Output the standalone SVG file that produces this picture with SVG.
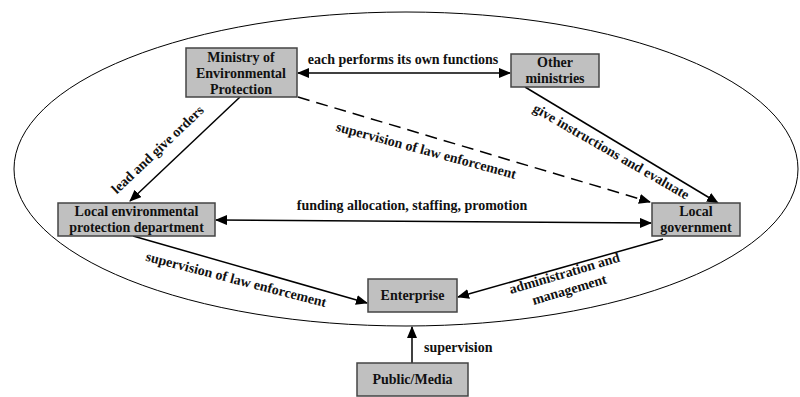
<svg xmlns="http://www.w3.org/2000/svg" width="800" height="397" viewBox="0 0 800 397">
<style>
.box{fill:#c0c0c0;stroke:#444;stroke-width:1.5}
.t{font-family:'Liberation Serif','DejaVu Serif',serif;font-weight:700;font-size:14px;fill:#111}
.c{text-anchor:middle}
.ln{stroke:#000;stroke-width:1.5;fill:none}
</style>
<defs>
<marker id="ah" markerUnits="userSpaceOnUse" markerWidth="12" markerHeight="10" refX="11" refY="5" orient="auto-start-reverse">
<path d="M0,0 L12,5 L0,10 z" fill="#000"/>
</marker>
</defs>
<rect width="800" height="397" fill="#fff"/>
<ellipse cx="406" cy="169" rx="392" ry="157" fill="none" stroke="#000" stroke-width="1"/>

<g id="connectors">
<line class="ln" x1="298" y1="73" x2="510" y2="73" marker-start="url(#ah)" marker-end="url(#ah)"/>
<line class="ln" x1="240" y1="97" x2="130" y2="201" marker-end="url(#ah)"/>
<line class="ln" x1="298" y1="97" x2="650" y2="202" stroke-dasharray="12,7" marker-end="url(#ah)"/>
<line class="ln" x1="525" y1="87" x2="718" y2="203" marker-end="url(#ah)"/>
<line class="ln" x1="216" y1="220" x2="651" y2="223" marker-start="url(#ah)" marker-end="url(#ah)"/>
<line class="ln" x1="133" y1="236" x2="367" y2="303" marker-end="url(#ah)"/>
<line class="ln" x1="663" y1="239" x2="458" y2="297" marker-end="url(#ah)"/>
<line class="ln" x1="412" y1="363" x2="412" y2="327" marker-end="url(#ah)"/>
</g>

<g id="labels">
<text class="t c" x="403" y="64">each performs its own functions</text>
<text class="t c" transform="translate(158,150) rotate(-43.4)" y="4">lead and give orders</text>
<text class="t c" transform="translate(426,151) rotate(15)" y="4">supervision of law enforcement</text>
<text class="t c" transform="translate(611,152) rotate(30)" y="4">give instructions and evaluate</text>
<text class="t c" x="412" y="210">funding allocation, staffing, promotion</text>
<text class="t c" transform="translate(236,280) rotate(14.5)" y="4">supervision of law enforcement</text>
<g transform="translate(567,282) rotate(-16.5)">
<text class="t c" y="-4.5">administration and</text>
<text class="t c" y="12.5">management</text>
</g>
<text class="t" x="424" y="352">supervision</text>
</g>

<g id="ministry">
<rect class="box" x="186" y="48" width="111" height="49"/>
<text class="t c" x="241" y="62">Ministry of</text>
<text class="t c" x="241" y="78">Environmental</text>
<text class="t c" x="241" y="94">Protection</text>
</g>
<g id="other-ministries">
<rect class="box" x="511" y="54" width="88" height="33"/>
<text class="t c" x="555" y="67">Other</text>
<text class="t c" x="555" y="83">ministries</text>
</g>
<g id="local-env">
<rect class="box" x="58" y="203" width="157" height="33"/>
<text class="t c" x="136.5" y="216">Local environmental</text>
<text class="t c" x="136.5" y="232">protection department</text>
</g>
<g id="local-gov">
<rect class="box" x="652" y="203" width="88" height="33"/>
<text class="t c" x="696" y="216">Local</text>
<text class="t c" x="696" y="232">government</text>
</g>
<g id="enterprise">
<rect class="box" x="368" y="279" width="89" height="33"/>
<text class="t c" x="412.5" y="300">Enterprise</text>
</g>
<g id="public-media">
<rect class="box" x="357" y="363" width="111" height="33"/>
<text class="t c" x="412.5" y="384">Public/Media</text>
</g>
</svg>
